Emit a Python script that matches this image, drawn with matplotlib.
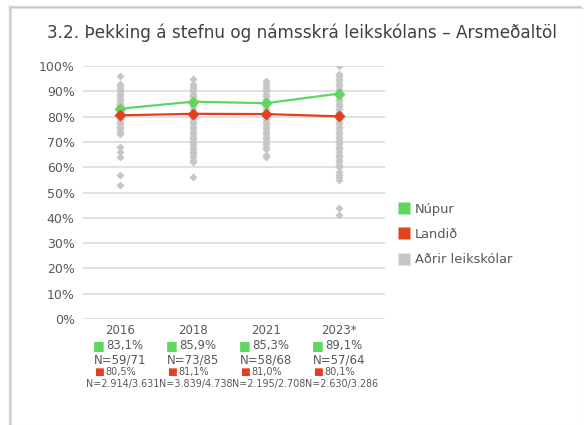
import matplotlib.pyplot as plt
from matplotlib.lines import Line2D
from matplotlib.patches import Rectangle

plt.rcParams['font.family'] = ['DejaVu Sans']

# data
years = ["2016", "2018", "2021", "2023*"]
nupur = [83.1, 85.9, 85.3, 89.1]
landid = [80.5, 81.1, 81.0, 80.1]
nupur_labels = ["83,1%", "85,9%", "85,3%", "89,1%"]
nupur_n = ["N=59/71", "N=73/85", "N=58/68", "N=57/64"]
landid_labels = ["80,5%", "81,1%", "81,0%", "80,1%"]
landid_n = ["N=2.914/3.631", "N=3.839/4.738", "N=2.195/2.708", "N=2.630/3.286"]

# other preschools
others_2016 = [96, 93, 92, 91, 90, 89, 89, 88, 87, 87, 86, 85, 85, 84, 84, 83, 82, 82,
               81, 80, 80, 79, 79, 78, 78, 77, 76, 76, 75, 74, 73, 68, 66, 64, 57, 53]
others_2018 = [95, 93, 92, 91, 90, 89, 88, 88, 87, 86, 85, 84, 84, 83, 82, 81, 80, 80, 79,
               78, 77, 76, 75, 74, 73, 72, 71, 70, 69, 68, 67, 66, 66, 65, 64, 63, 62, 56]
others_2021 = [94, 93, 92, 91, 90, 89, 88, 87, 86, 85, 84, 83, 82, 81, 80, 79, 78, 77, 76,
               75, 74, 73, 72, 71, 70, 69, 68, 67, 65, 64]
others_2023 = [100, 97, 96, 95, 94, 93, 92, 91, 90, 89, 88, 87, 86, 85, 84, 83, 82, 81, 79,
               78, 77, 76, 75, 74, 73, 72, 71, 70, 69, 68, 67, 66, 65, 64, 63, 62, 61, 60,
               58, 57, 56, 55, 44, 41]
others = [others_2016, others_2018, others_2021, others_2023]

GREEN = "#5fd75f"
RED = "#e2401f"
GRAY = "#c6c6c6"
TXT = "#595959"

W, H = 584, 425
fig = plt.figure(figsize=(W / 100, H / 100), dpi=100)

# card with a soft shadow
for i, a in enumerate([0.05, 0.08, 0.12]):
    fig.patches.append(Rectangle(((11 - 3 + i) / W, 0), (W - 11) / W, (H - 8 + 3 - i) / H,
                                 transform=fig.transFigure, facecolor="#000000",
                                 alpha=a, edgecolor="none", zorder=-10))
fig.patches.append(Rectangle((11 / W, 0), (W - 11) / W, (H - 8) / H,
                             transform=fig.transFigure, facecolor="white",
                             edgecolor="#e0e0e0", lw=0.8, zorder=-9))

ax = fig.add_axes([83 / W, 1 - 319 / H, (385 - 83) / W, (319 - 66) / H])
ax.set_facecolor("none")

x = list(range(len(years)))
for i, vals in enumerate(others):
    ax.plot([i] * len(vals), vals, linestyle="none", marker="D", markersize=4.5,
            color=GRAY, markeredgecolor="none", zorder=2)
ax.plot(x, nupur, color=GREEN, lw=1.6, marker="D", markersize=6.5,
        markeredgecolor="none", zorder=4)
ax.plot(x, landid, color=RED, lw=1.6, marker="D", markersize=6.5,
        markeredgecolor="none", zorder=4)

ax.set_xlim(-0.507, 3.63)
ax.set_ylim(0, 100)
ax.set_yticks(range(0, 101, 10))
ax.set_yticklabels([f"{v}%" for v in range(0, 101, 10)])
ax.set_xticks([])
ax.grid(axis="y", color="#d9d9d9", lw=1.1)
ax.set_axisbelow(True)
for s in ax.spines.values():
    s.set_visible(False)
ax.tick_params(axis="y", length=0, pad=6, labelsize=9, labelcolor=TXT)

# category labels below the axis
tr = ax.get_xaxis_transform()
for i in x:
    ax.text(i, -0.045, years[i], transform=tr, ha="center", va="center", fontsize=8.5, color=TXT)
    ax.annotate("■", (i, -0.105), xycoords=tr, xytext=(-15, 0), textcoords="offset points",
                ha="center", va="center", fontsize=9, color=GREEN)
    ax.annotate(nupur_labels[i], (i, -0.105), xycoords=tr, xytext=(-10, 0),
                textcoords="offset points", ha="left", va="center", fontsize=8.5, color=TXT)
    ax.text(i, -0.163, nupur_n[i], transform=tr, ha="center", va="center", fontsize=8.5, color=TXT)
    ax.annotate("■", (i, -0.21), xycoords=tr, xytext=(-15, 0), textcoords="offset points",
                ha="center", va="center", fontsize=7.5, color=RED)
    ax.annotate(landid_labels[i], (i, -0.21), xycoords=tr, xytext=(-10.5, 0),
                textcoords="offset points", ha="left", va="center", fontsize=7, color=TXT)
    ax.text(i + 0.04, -0.255, landid_n[i], transform=tr, ha="center", va="center",
            fontsize=6.9, color=TXT)

handles = [Line2D([], [], linestyle="none", marker="s", markersize=8, color=c, markeredgecolor="none")
           for c in [GREEN, RED, GRAY]]
fig.legend(handles, ["Núpur", "Landið", "Aðrir leikskólar"], loc="upper left",
           bbox_to_anchor=(392 / W, 1 - 196 / H), frameon=False, fontsize=9.4,
           labelcolor=TXT, handlelength=0.8, handletextpad=0.45, labelspacing=0.95,
           borderpad=0)

fig.text(47 / W, 1 - 33 / H, "3.2. Þekking á stefnu og námsskrá leikskólans – Arsmeðaltöl",
         ha="left", va="center", fontsize=12.2, color="#404040")

fig.savefig("out.png", dpi=100)
